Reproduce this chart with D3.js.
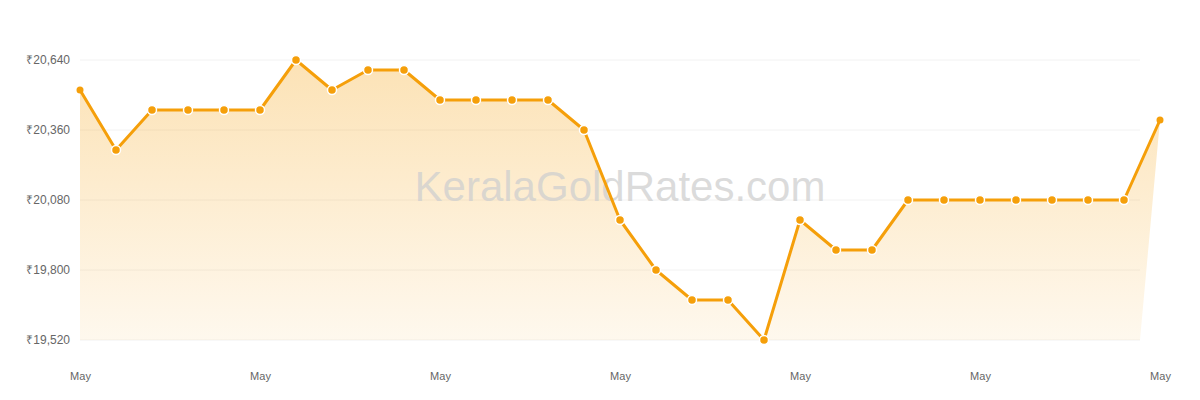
<!DOCTYPE html>
<html>
<head>
<meta charset="utf-8">
<script src="https://cdn.jsdelivr.net/npm/d3@7"></script>
<style>
  body { margin: 0; background: #fff; }
  svg { display: block; font-family: "Liberation Sans", Arial, sans-serif; }
</style>
</head>
<body>
<svg id="chart" width="1200" height="400"></svg>
<script>
// daily gold rate (8 g), 31 days
const rates = [
  20520, 20280, 20440, 20440, 20440, 20440, 20640, 20520, 20600, 20600,
  20480, 20480, 20480, 20480, 20360, 20000, 19800, 19680, 19680, 19520,
  20000, 19880, 19880, 20080, 20080, 20080, 20080, 20080, 20080, 20080,
  20400
]
const days = rates.map((d, i) => i)
const yTicks = [19520, 19800, 20080, 20360, 20640]
const xTickLabel = 'May'
const watermark = 'KeralaGoldRates.com'

const W = 1200, H = 400
const margin = { top: 60, right: 40, bottom: 60, left: 80 }
const gridRight = W - 60   // grid stops a bit before the last point
const ORANGE = '#f59f0a'

const svg = d3.select('#chart')

const x = d3.scaleLinear()
  .domain([0, rates.length - 1])
  .range([margin.left, W - margin.right])

const y = d3.scaleLinear()
  .domain([19520, 20640])
  .range([H - margin.bottom, margin.top])

// gradient for the area
const grad = svg.append('defs').append('linearGradient')
  .attr('id', 'fillGrad')
  .attr('gradientUnits', 'userSpaceOnUse')
  .attr('x1', 0).attr('x2', 0)
  .attr('y1', y(20640)).attr('y2', y(19520))
grad.append('stop').attr('offset', '0%').attr('stop-color', ORANGE).attr('stop-opacity', 0.3)
grad.append('stop').attr('offset', '100%').attr('stop-color', ORANGE).attr('stop-opacity', 0.07)

// grid lines
svg.append('g')
  .selectAll('line')
  .data(yTicks)
  .enter()
  .append('line')
  .attr('x1', margin.left)
  .attr('x2', gridRight)
  .attr('y1', d => y(d))
  .attr('y2', d => y(d))
  .attr('stroke', '#f2f2f2')
  .attr('stroke-width', 1)

// y labels
const yAxis = d3.axisLeft(y)
  .tickValues(yTicks)
  .tickSize(0)
  .tickPadding(10)
  .tickFormat(d => '₹' + d3.format(',')(d))
svg.append('g')
  .attr('transform', `translate(${margin.left},0)`)
  .call(yAxis)
  .call(g => g.select('.domain').remove())
  .call(g => g.selectAll('text')
    .attr('fill', '#666')
    .attr('font-size', 12)
    .attr('font-family', '"Liberation Sans", Arial, sans-serif'))

// x labels, every 5 days
const xAxis = d3.axisBottom(x)
  .tickValues(days.filter(d => d % 5 === 0))
  .tickSize(0)
  .tickPadding(0)
  .tickFormat(() => xTickLabel)
svg.append('g')
  .attr('transform', `translate(0,${H - margin.bottom + 32})`)
  .call(xAxis)
  .call(g => g.select('.domain').remove())
  .call(g => g.selectAll('text')
    .attr('fill', '#666')
    .attr('font-size', 11)
    .attr('font-family', '"Liberation Sans", Arial, sans-serif'))

// area: closes down to the grid's right edge
const pts = rates.map((v, i) => [x(i), y(v)])
const areaPts = pts.concat([[gridRight, y.range()[0]], [x(0), y.range()[0]]])
svg.append('path')
  .attr('d', d3.line()(areaPts) + 'Z')
  .attr('fill', 'url(#fillGrad)')

// watermark
svg.append('text')
  .attr('x', (margin.left + W - margin.right) / 2)
  .attr('y', 201)
  .attr('text-anchor', 'middle')
  .attr('font-size', 42)
  .attr('fill', '#cfcfcf')
  .attr('fill-opacity', 0.75)
  .text(watermark)

// line
svg.append('path')
  .datum(rates)
  .attr('d', d3.line().x((d, i) => x(i)).y(d => y(d)))
  .attr('fill', 'none')
  .attr('stroke', ORANGE)
  .attr('stroke-width', 3)
  .attr('stroke-linejoin', 'round')

// dots, first and last without white ring
svg.append('g')
  .selectAll('circle')
  .data(rates)
  .enter()
  .append('circle')
  .attr('cx', (d, i) => x(i))
  .attr('cy', d => y(d))
  .attr('r', (d, i) => (i === 0 || i === rates.length - 1) ? 3.5 : 4.5)
  .attr('fill', ORANGE)
  .attr('stroke', (d, i) => (i === 0 || i === rates.length - 1) ? 'none' : '#fff')
  .attr('stroke-width', 1.5)
</script>
</body>
</html>
